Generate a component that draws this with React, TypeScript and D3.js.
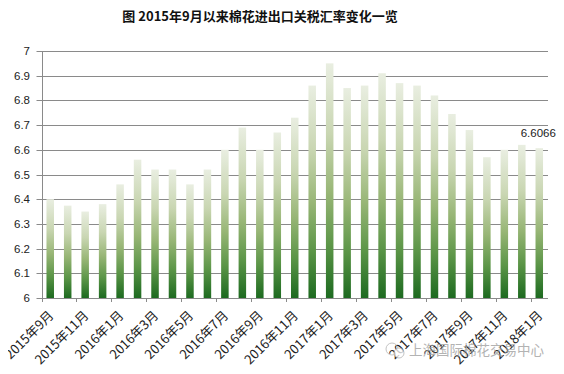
import React, { useEffect, useRef } from "react";
import * as d3 from "d3";

// 月份（2015年9月 ~ 2018年1月）
const months = [
  "2015年9月", "2015年10月", "2015年11月", "2015年12月",
  "2016年1月", "2016年2月", "2016年3月", "2016年4月", "2016年5月", "2016年6月",
  "2016年7月", "2016年8月", "2016年9月", "2016年10月", "2016年11月", "2016年12月",
  "2017年1月", "2017年2月", "2017年3月", "2017年4月", "2017年5月", "2017年6月",
  "2017年7月", "2017年8月", "2017年9月", "2017年10月", "2017年11月", "2017年12月",
  "2018年1月",
];

// 关税汇率
const rates = [
  6.40, 6.374, 6.35, 6.38,
  6.46, 6.56, 6.52, 6.52, 6.46, 6.52,
  6.60, 6.69, 6.60, 6.67, 6.73, 6.86,
  6.95, 6.85, 6.86, 6.91, 6.87, 6.86,
  6.82, 6.745, 6.68, 6.57, 6.60, 6.62,
  6.6066,
];

const yTicks = [6, 6.1, 6.2, 6.3, 6.4, 6.5, 6.6, 6.7, 6.8, 6.9, 7];

const title = "图 2015年9月以来棉花进出口关税汇率变化一览";
const watermark = "上海国际棉花交易中心";

const W = 564;
const H = 374;

const Chart = () => {
  const refToSvg = useRef<SVGSVGElement>(null);

  useEffect(() => {
    const svg = d3.select(refToSvg.current);
    svg.selectAll("*").remove();

    const left = 41.5;
    const right = 548;
    const top = 51;
    const bottom = 298;

    const x = d3
      .scaleBand<string>()
      .domain(months)
      .range([left, right])
      .paddingInner(0.57)
      .paddingOuter(0.285);
    const y = d3.scaleLinear().domain([6, 7]).range([bottom, top]);

    const defs = svg.append("defs");
    const grad = defs
      .append("linearGradient")
      .attr("id", "barGrad")
      .attr("x1", 0)
      .attr("y1", 0)
      .attr("x2", 0)
      .attr("y2", 1);
    [
      [0, "#e9eee1"],
      [0.3, "#c9d6b2"],
      [0.55, "#98b676"],
      [0.78, "#5b9547"],
      [1, "#1d6a20"],
    ].forEach(([o, c]) => grad.append("stop").attr("offset", o).attr("stop-color", c));

    // 标题
    svg
      .append("text")
      .attr("x", 260)
      .attr("y", 21)
      .attr("text-anchor", "middle")
      .attr("font-family", "'Noto Sans CJK SC', sans-serif")
      .attr("font-weight", "bold")
      .attr("font-size", 13)
      .attr("fill", "#111")
      .text(title);

    // 网格线
    svg
      .append("g")
      .selectAll("line")
      .data(yTicks)
      .join("line")
      .attr("x1", left - 5)
      .attr("x2", right)
      .attr("y1", (d) => Math.round(y(d)) + 0.5)
      .attr("y2", (d) => Math.round(y(d)) + 0.5)
      .attr("stroke", "#8a8a8a")
      .attr("stroke-width", 1);

    // y 轴
    svg
      .append("line")
      .attr("x1", Math.round(left) + 0.5)
      .attr("x2", Math.round(left) + 0.5)
      .attr("y1", top)
      .attr("y2", bottom)
      .attr("stroke", "#8a8a8a");

    svg
      .append("g")
      .selectAll("text")
      .data(yTicks)
      .join("text")
      .attr("x", 30)
      .attr("y", (d) => y(d))
      .attr("dy", "0.35em")
      .attr("text-anchor", "end")
      .attr("font-family", "'Liberation Sans', Arial, sans-serif")
      .attr("font-size", 11.5)
      .attr("fill", "#222")
      .text((d) => d3.format("")(+d.toFixed(1)));

    // 柱子
    svg
      .append("g")
      .selectAll("rect")
      .data(rates)
      .join("rect")
      .attr("x", (_, i) => x(months[i])!)
      .attr("width", x.bandwidth())
      .attr("y", (d) => y(d))
      .attr("height", (d) => bottom - y(d))
      .attr("fill", "url(#barGrad)");

    // x 轴刻度
    const step = x.step();
    const tickIdx = d3.range(0, months.length, 2);
    svg
      .append("g")
      .selectAll("line")
      .data(tickIdx)
      .join("line")
      .attr("x1", (i) => Math.round(left + i * step) + 0.5)
      .attr("x2", (i) => Math.round(left + i * step) + 0.5)
      .attr("y1", bottom)
      .attr("y2", bottom + 4)
      .attr("stroke", "#8a8a8a");

    svg
      .append("g")
      .selectAll("text")
      .data(tickIdx)
      .join("text")
      .attr("transform", (i) => {
        const cx = x(months[i])! + x.bandwidth() / 2 + 1;
        return `translate(${cx},${bottom + 15}) rotate(-45)`;
      })
      .attr("dy", "0.35em")
      .attr("text-anchor", "end")
      .attr("font-family", "'Noto Sans CJK SC', sans-serif")
      .attr("font-size", 13)
      .attr("fill", "#222")
      .text((i) => months[i]);

    // 最后一个值的标签
    const last = rates.length - 1;
    svg
      .append("text")
      .attr("x", x(months[last])! + x.bandwidth() / 2 - 1)
      .attr("y", y(rates[last]) - 11)
      .attr("text-anchor", "middle")
      .attr("font-family", "'Liberation Sans', Arial, sans-serif")
      .attr("font-size", 11.5)
      .attr("fill", "#222")
      .text(d3.format(".4f")(rates[last]));

    // 水印
    const wm = svg.append("g").attr("opacity", 0.75);
    wm.append("circle")
      .attr("cx", 392)
      .attr("cy", 349)
      .attr("r", 6)
      .attr("fill", "none")
      .attr("stroke", "#b0b0b0");
    wm.append("circle")
      .attr("cx", 399)
      .attr("cy", 353)
      .attr("r", 5)
      .attr("fill", "#fff")
      .attr("stroke", "#b0b0b0");
    wm.append("text")
      .attr("x", 409)
      .attr("y", 355)
      .attr("font-family", "'Noto Sans CJK SC', sans-serif")
      .attr("font-size", 13.5)
      .attr("fill", "#9a9a9a")
      .text(watermark);
  }, []);

  return <svg ref={refToSvg} width={W} height={H} style={{ display: "block", background: "#fff" }} />;
};

export default function App() {
  return (
    <div style={{ margin: -8, width: W, height: H }}>
      <Chart />
    </div>
  );
}
